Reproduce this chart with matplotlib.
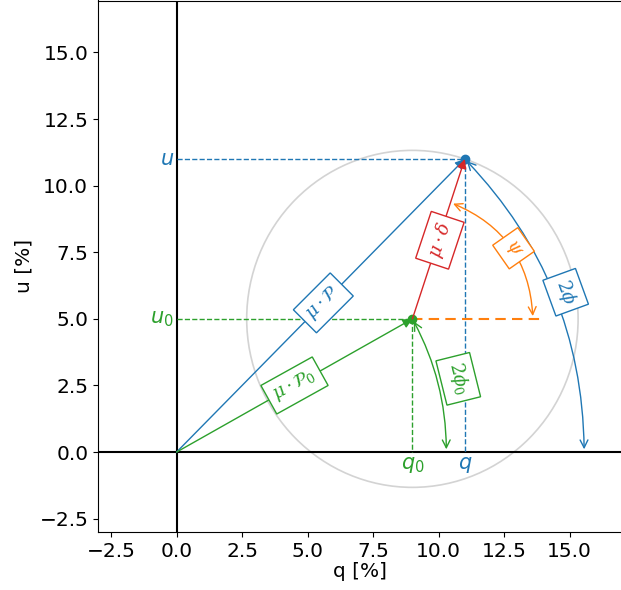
import numpy as np
import matplotlib.pyplot as plt

# polarisation values in percent
q0, u0 = 9.0, 5.0        # reference point p0
q, u = 11.0, 11.0        # measured point p
psi_radius = 4.6         # radius used for the psi arc
psi_line_end = 14.0      # end of orange dashed reference line

labels_mu_p = r'$\mu \cdot \mathcal{P}$'
labels_mu_p0 = r'$\mu \cdot \mathcal{P}_0$'
labels_mu_d = r'$\mu \cdot \delta$'

c_p, c_p0, c_d, c_psi = 'tab:blue', 'tab:green', 'tab:red', 'tab:orange'

fig = plt.figure(figsize=(6.21, 5.9), dpi=100)
ax = fig.add_axes([98 / 621, 58 / 590, 524 / 621, 531.5 / 590])
ax.set_xlim(-3, 17)
ax.set_ylim(-3, 16.95)
ax.set_xticks(np.arange(-2.5, 15.1, 2.5))
ax.set_yticks(np.arange(-2.5, 15.1, 2.5))
ax.tick_params(labelsize=14.5)
ax.set_xlabel('q [%]', fontsize=14.5, labelpad=1)
ax.set_ylabel('u [%]', fontsize=14.5)

ax.axhline(0, color='black', lw=1.5)
ax.axvline(0, color='black', lw=1.5)

# circle through p around p0
r = np.hypot(q - q0, u - u0)
ax.add_patch(plt.Circle((q0, u0), r, fill=False, color='lightgray', lw=1.2))

# projections
ax.plot([0, q], [u, u], ls='--', color=c_p, lw=1)
ax.plot([q, q], [u, 0], ls='--', color=c_p, lw=1)
ax.plot([0, q0], [u0, u0], ls='--', color=c_p0, lw=1)
ax.plot([q0, q0], [u0, 0], ls='--', color=c_p0, lw=1)
ax.plot([q0, psi_line_end], [u0, u0], ls='--', color=c_psi, lw=1.5, dashes=(5, 3))

ax.text(-0.1, u, '$u$', color=c_p, fontsize=15, ha='right', va='center')
ax.text(-0.1, u0, '$u_0$', color=c_p0, fontsize=15, ha='right', va='center')
ax.text(q, -0.1, '$q$', color=c_p, fontsize=15, ha='center', va='top')
ax.text(q0, -0.1, '$q_0$', color=c_p0, fontsize=15, ha='center', va='top')

# vectors
def vec(x0, y0, x1, y1, color):
    ax.annotate('', xy=(x1, y1), xytext=(x0, y0),
                arrowprops=dict(arrowstyle='-|>', color=color, lw=1,
                                shrinkA=0, shrinkB=0, mutation_scale=14))

vec(0, 0, q, u, c_p)
vec(0, 0, q0, u0, c_p0)
vec(q0, u0, q, u, c_d)
ax.plot(q, u, 'o', color=c_p, ms=6)
ax.plot(q0, u0, 'o', color=c_p0, ms=6)


def arc(x0, y0, x1, y1, rad, color):
    ax.annotate('', xy=(x1, y1), xytext=(x0, y0),
                arrowprops=dict(arrowstyle='<->', color=color, lw=1,
                                connectionstyle=f'arc3,rad={rad}',
                                mutation_scale=14))


# 2phi arcs around the origin
rp = np.hypot(q, u)
rp0 = np.hypot(q0, u0)
arc(q, u, rp, 0, -np.tan(np.arctan2(u, q) / 4), c_p)
arc(q0, u0, rp0, 0, -np.tan(np.arctan2(u0, q0) / 4), c_p0)

# psi arc around p0
ang_d = np.arctan2(u - u0, q - q0)
arc(q0 + psi_radius * np.cos(ang_d), u0 + psi_radius * np.sin(ang_d),
    q0 + psi_radius, u0, -np.tan(ang_d / 4), c_psi)


def box_label(x, y, s, color, rot):
    ax.text(x, y, s, color=color, fontsize=13, ha='center', va='center',
            rotation=rot, rotation_mode='anchor', math_fontfamily='dejavuserif',
            bbox=dict(boxstyle='square,pad=0.35', fc='white', ec=color, lw=1))


box_label(5.6, 5.6, labels_mu_p, c_p, 45)
box_label(4.5, 2.5, labels_mu_p0, c_p0, np.degrees(np.arctan2(u0, q0)))
box_label(10.05, 7.95, labels_mu_d, c_d, np.degrees(ang_d))
box_label(12.86, 7.65, r'$\psi$', c_psi, -55)
box_label(14.85, 6.0, r'$2\phi$', c_p, -70)
box_label(10.75, 2.75, r'$2\phi_0$', c_p0, -76)

fig.savefig('out.png', dpi=100)
